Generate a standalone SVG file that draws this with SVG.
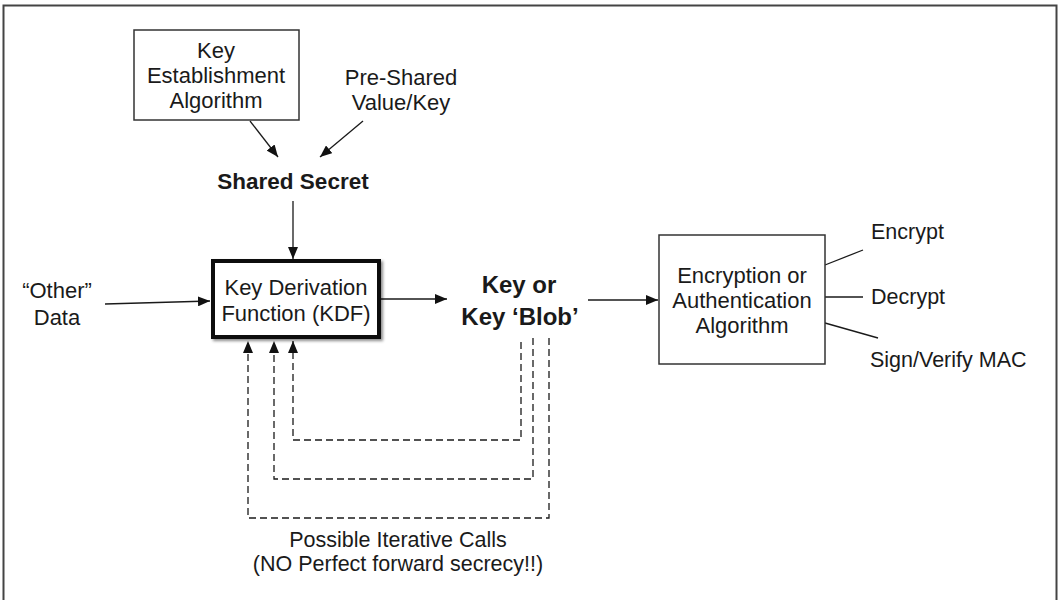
<svg xmlns="http://www.w3.org/2000/svg" width="1061" height="600" viewBox="0 0 1061 600">
<defs>
<marker id="ah" viewBox="0 0 12 10" refX="12" refY="5" markerWidth="12" markerHeight="10" markerUnits="userSpaceOnUse" orient="auto"><path d="M0,0 L12,5 L0,10 z" fill="#111"/></marker>
<filter id="sh" x="-10%" y="-10%" width="130%" height="140%"><feDropShadow dx="2" dy="2" stdDeviation="1.5" flood-color="#000" flood-opacity="0.45"/></filter>
<style>
text{font-family:"Liberation Sans",Arial,Helvetica,sans-serif;fill:#1a1a1a;text-anchor:middle}
.n{font-size:22px}
.s{font-size:21.5px}
.b{font-weight:bold;font-size:22.5px}
.bb{font-weight:bold;font-size:24px}
.l{text-anchor:start;font-size:21.5px}
.box{fill:#fff;stroke:#333;stroke-width:1.5}
.c{stroke:#1a1a1a;stroke-width:1.3;fill:none}
.a{stroke:#1a1a1a;stroke-width:1.3;fill:none;marker-end:url(#ah)}
.d{stroke:#1a1a1a;stroke-width:1.3;fill:none;stroke-dasharray:7 4;marker-end:url(#ah)}
</style>
</defs>
<rect x="3.5" y="5.5" width="1053" height="600" fill="#fff" stroke="#444" stroke-width="2"/>
<g id="connectors">
<line class="a" x1="250" y1="121" x2="278" y2="157"/>
<line class="a" x1="363" y1="121" x2="320" y2="157"/>
<line class="a" x1="293" y1="201" x2="293" y2="259"/>
<line class="a" x1="105" y1="304" x2="210" y2="301"/>
<line class="a" x1="381" y1="299" x2="447" y2="299"/>
<line class="a" x1="588" y1="300" x2="658" y2="300"/>
<line class="c" x1="825" y1="265" x2="863" y2="250"/>
<line class="c" x1="825" y1="297" x2="863" y2="297"/>
<line class="c" x1="825" y1="323" x2="878" y2="338"/>
<path class="d" d="M521,342 V440 H293 V341"/>
<path class="d" d="M533,338 V479 H274 V341"/>
<path class="d" d="M549,338 V518 H248 V341"/>
</g>
<g id="key-establishment">
<rect class="box" x="134" y="30" width="165" height="90"/>
<text class="n" x="216" y="58">Key</text>
<text class="n" x="216" y="83">Establishment</text>
<text class="n" x="216" y="108">Algorithm</text>
</g>
<g id="pre-shared">
<text class="n" x="401" y="85">Pre-Shared</text>
<text class="n" x="401" y="110">Value/Key</text>
</g>
<g id="shared-secret">
<text class="b" x="293" y="189">Shared Secret</text>
</g>
<g id="kdf">
<rect x="213" y="261" width="166" height="76" fill="#fff" stroke="#111" stroke-width="4" filter="url(#sh)"/>
<text class="n" x="296" y="295">Key Derivation</text>
<text class="n" x="296" y="321">Function (KDF)</text>
</g>
<g id="other-data">
<text class="n" x="57" y="298">“Other”</text>
<text class="n" x="57" y="325">Data</text>
</g>
<g id="key-blob">
<text class="bb" x="519" y="293">Key or</text>
<text class="bb" x="520" y="325">Key ‘Blob’</text>
</g>
<g id="encryption">
<rect class="box" x="659" y="235" width="166" height="129"/>
<text class="n" x="742" y="283">Encryption or</text>
<text class="n" x="742" y="308">Authentication</text>
<text class="n" x="742" y="333">Algorithm</text>
</g>
<g id="outputs">
<text class="l" x="871" y="239">Encrypt</text>
<text class="l" x="871" y="304">Decrypt</text>
<text class="l" x="870" y="367">Sign/Verify MAC</text>
</g>
<g id="iterative-label">
<text class="s" x="398" y="547">Possible Iterative Calls</text>
<text class="s" x="398" y="571">(NO Perfect forward secrecy!!)</text>
</g>
</svg>
